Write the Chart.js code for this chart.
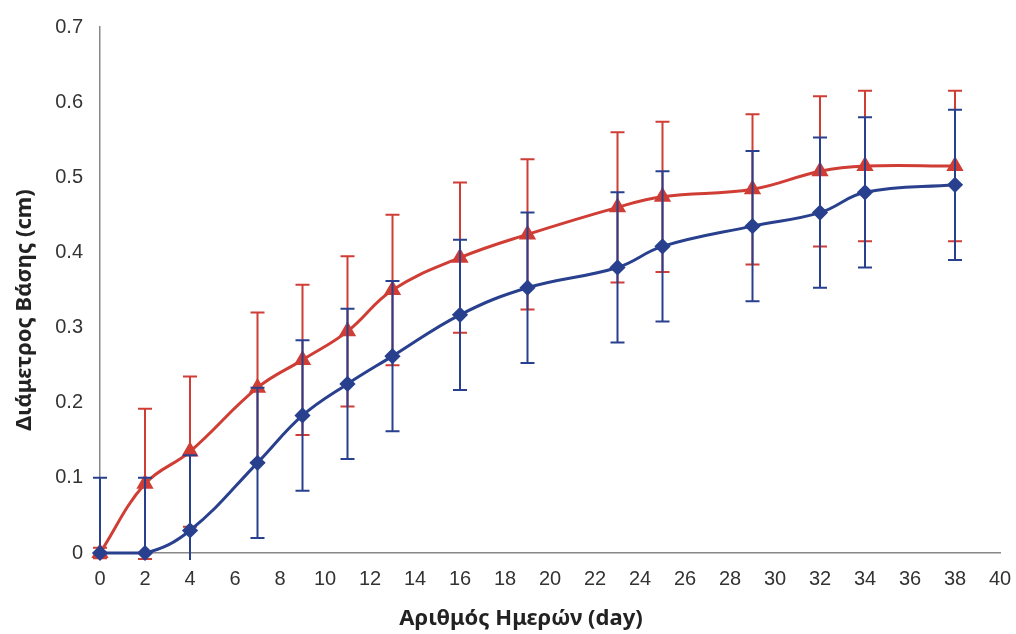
<!DOCTYPE html>
<html>
<head>
<meta charset="utf-8">
<script src="https://cdn.jsdelivr.net/npm/chart.js@4"></script>
<style>
  html, body { margin: 0; padding: 0; background: #fff; }
  #wrap { width: 1016px; height: 634px; }
</style>
</head>
<body>
<div id="wrap"><canvas id="chart"></canvas></div>
<script>
// days of measurement
const days = [0, 2, 4, 7, 9, 11, 13, 16, 19, 23, 25, 29, 32, 34, 38];

// diameter (cm), blue diamonds
const blueValues = [0, 0, 0.03, 0.12, 0.183, 0.225, 0.262, 0.317, 0.353, 0.38, 0.408, 0.435, 0.453, 0.48, 0.49];
const blueErr = [0.1, 0.1, 0.1, 0.1, 0.1, 0.1, 0.1, 0.1, 0.1, 0.1, 0.1, 0.1, 0.1, 0.1, 0.1];

// diameter (cm), red triangles
const redValues = [0, 0.092, 0.135, 0.22, 0.257, 0.295, 0.35, 0.393, 0.424, 0.46, 0.474, 0.484, 0.508, 0.515, 0.515];
const redErr = [0.007, 0.1, 0.1, 0.1, 0.1, 0.1, 0.1, 0.1, 0.1, 0.1, 0.1, 0.1, 0.1, 0.1, 0.1];

const xTitle = "Αριθμός Ημερών (day)";
const yTitle = "Διάμετρος Βάσης (cm)";

const RED = "#cf3d35";
const BLUE = "#28408e";
const TITLE_FONT = "bold 22px 'Noto Sans'";

function toPoints(vals, errs) {
  return days.map((d, i) => ({ x: d, y: vals[i], err: errs[i] }));
}

// draws each dataset's error bars just before the dataset itself,
// bars running past the bottom of the plot get cut there without a cap
const errorBars = {
  id: "errorBars",
  beforeDatasetDraw(chart, args) {
    const ds = chart.data.datasets[args.index];
    const ctx = chart.ctx;
    const ys = chart.scales.y;
    const limit = chart.chartArea.bottom + 7;
    ctx.save();
    ctx.strokeStyle = ds.borderColor;
    ctx.lineWidth = 2;
    args.meta.data.forEach((pt, i) => {
      const p = ds.data[i];
      if (!p.err) return;
      const x = pt.x;
      const top = ys.getPixelForValue(p.y + p.err);
      let bot = ys.getPixelForValue(p.y - p.err);
      const cut = bot > limit;
      if (cut) bot = limit;
      ctx.beginPath();
      ctx.moveTo(x, top);
      ctx.lineTo(x, bot);
      ctx.moveTo(x - 7, top);
      ctx.lineTo(x + 7, top);
      if (!cut) {
        ctx.moveTo(x - 7, bot);
        ctx.lineTo(x + 7, bot);
      }
      ctx.stroke();
    });
    ctx.restore();
  }
};

// axis titles, placed a bit off-centre like in the original
const axisTitles = {
  id: "axisTitles",
  afterDraw(chart) {
    const { ctx, chartArea } = chart;
    ctx.save();
    ctx.fillStyle = "#222";
    ctx.font = TITLE_FONT;
    ctx.textAlign = "center";
    ctx.textBaseline = "middle";
    ctx.fillText(xTitle, (chartArea.left + chartArea.right) / 2 - 29, 619);
    ctx.translate(25, (chartArea.top + chartArea.bottom) / 2 + 20);
    ctx.rotate(-Math.PI / 2);
    ctx.fillText(yTitle, 0, 0);
    ctx.restore();
  }
};

new Chart(document.getElementById("chart").getContext("2d"), {
  type: "scatter",
  data: {
    datasets: [
      {
        label: "blue",
        data: toPoints(blueValues, blueErr),
        borderColor: BLUE,
        backgroundColor: BLUE,
        showLine: true,
        tension: 0.4,
        borderWidth: 3,
        pointStyle: "rectRot",
        pointRadius: 6,
        clip: false
      },
      {
        label: "red",
        data: toPoints(redValues, redErr),
        borderColor: RED,
        backgroundColor: RED,
        showLine: true,
        tension: 0.4,
        borderWidth: 3,
        pointStyle: "triangle",
        pointRadius: 7,
        clip: false
      }
    ]
  },
  options: {
    responsive: true,
    maintainAspectRatio: false,
    animation: false,
    layout: { padding: { top: 27, right: 16, bottom: 2, left: 0 } },
    plugins: {
      legend: { display: false },
      tooltip: { enabled: false }
    },
    scales: {
      x: {
        type: "linear",
        min: 0,
        max: 40,
        ticks: { stepSize: 2, color: "#333", font: { family: "Liberation Sans", size: 20 }, padding: 9 },
        grid: { display: false, drawTicks: true, tickLength: 5, color: "#999" },
        border: { color: "#888", width: 1.5 },
        afterFit(s) { s.height = 79; s.paddingRight = 0; s.paddingLeft = 0; }
      },
      y: {
        min: 0,
        max: 0.7,
        ticks: { stepSize: 0.1, color: "#333", font: { family: "Liberation Sans", size: 20 }, padding: 11 },
        grid: { display: false, drawTicks: true, tickLength: 6, color: "#999" },
        border: { color: "#888", width: 1.5 },
        afterFit(s) { s.width = 100; }
      }
    }
  },
  plugins: [errorBars, axisTitles]
});
</script>
</body>
</html>
